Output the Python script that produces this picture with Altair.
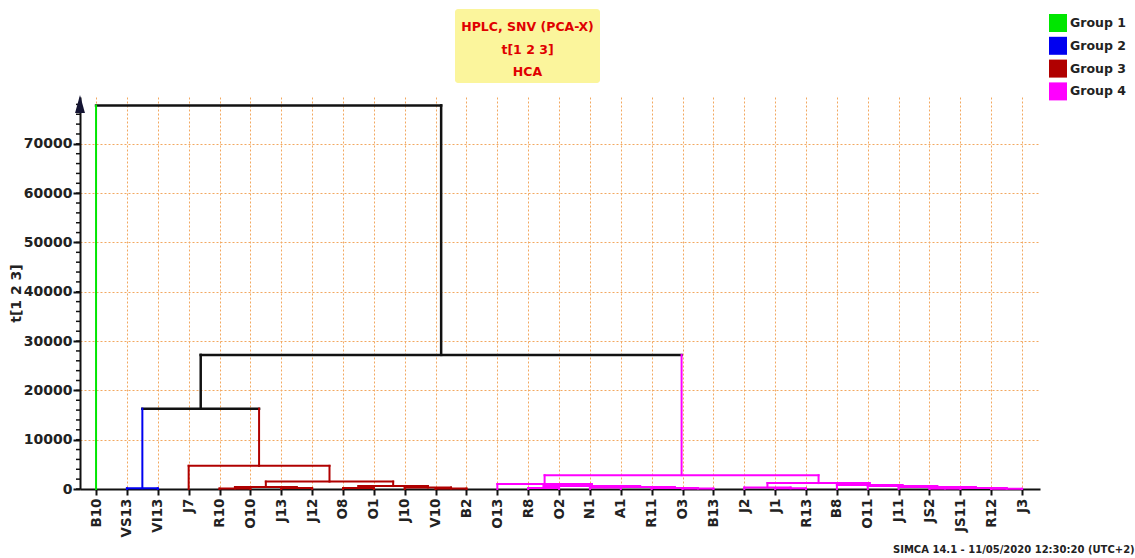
import json
import altair as alt
import pandas as pd

# ---------------- data ----------------
leaves = ["B10", "VS13", "VI13", "J7", "R10", "O10", "J13", "J12", "O8", "O1",
          "J10", "V10", "B2", "O13", "R8", "O2", "N1", "A1", "R11", "O3",
          "B13", "J2", "J1", "R13", "B8", "O11", "J11", "JS2", "JS11", "R12", "J3"]
leaf_groups = (["Group 1"] + ["Group 2"] * 2 + ["Group 3"] * 10 + ["Group 4"] * 18)

merge_names = ["g2", "a1", "a2", "a3", "a4", "a5", "a6", "a7", "a8", "g3",
               "b1", "b2", "b3", "b4", "b5", "b6", "b7",
               "c1", "c2", "u5", "u4", "u3", "u2", "u1", "u0", "c3", "g4",
               "left", "rest", "root"]
merge_left = ["VS13", "R10", "J13", "a1", "O8", "V10", "J10", "a4", "a3", "J7",
              "R8", "N1", "O3", "R11", "b2", "b1", "O13",
              "J1", "J2", "R12", "JS2", "u4", "J11", "O11", "B8", "c2", "b7",
              "g2", "left", "B10"]
merge_right = ["VI13", "O10", "J12", "a2", "O1", "B2", "a5", "a6", "a7", "a8",
               "O2", "A1", "B13", "b3", "b4", "b5", "b6",
               "R13", "c1", "J3", "JS11", "u5", "u3", "u2", "u1", "u0", "c3",
               "g3", "g4", "rest"]
merge_height = [150, 100, 200, 400, 200, 100, 300, 600, 1500, 4700,
                200, 300, 100, 200, 400, 600, 1000,
                150, 300, 50, 100, 200, 400, 600, 800, 1200, 2800,
                16300, 27200, 77800]

groups = ["Group 1", "Group 2", "Group 3", "Group 4"]
group_colors = ["#00e600", "#0000f0", "#b00000", "#ff00ff"]

y_ticks = [0, 10000, 20000, 30000, 40000, 50000, 60000, 70000]
y_minor = list(range(0, 78001, 2000))

title_lines = ["HPLC, SNV (PCA-X)", "t[1 2 3]", "HCA"]
footer = "SIMCA 14.1 - 11/05/2020 12:30:20 (UTC+2)"

# ---------------- dendrogram layout ----------------
pos, hgt, grp = {}, {}, {}
for i, (n, g) in enumerate(zip(leaves, leaf_groups)):
    pos[n], hgt[n], grp[n] = i, 0, g
for n, l, r, h in zip(merge_names, merge_left, merge_right, merge_height):
    pos[n] = (pos[l] + pos[r]) / 2
    hgt[n] = h
    grp[n] = grp[l] if grp[l] == grp[r] else "none"

rows = []
for n, l, r, h in zip(merge_names, merge_left, merge_right, merge_height):
    rows.append(dict(x=pos[l], x2=pos[r], y=h, y2=h, group=grp[n]))
    for c in (l, r):
        rows.append(dict(x=pos[c], x2=pos[c], y=hgt[c], y2=h, group=grp[c]))
seg = pd.DataFrame(rows)
leaf_df = pd.DataFrame({"x": list(range(len(leaves))), "y": [0] * len(leaves),
                        "group": leaf_groups})

# ---------------- chart ----------------
FONT = "DejaVu Sans"
TXT = "#222222"
GRID = "#f2a860"

xscale = alt.Scale(domain=[-0.52, 30.58], nice=False, zero=False)
yscale = alt.Scale(domain=[0, 79500], nice=False)

xaxis = alt.Axis(values=list(range(len(leaves))),
                 labelExpr=f"{json.dumps(leaves)}[round(datum.value)]",
                 labelAngle=270, labelAlign="right", labelBaseline="middle",
                 labelFont=FONT, labelFontWeight="bold", labelFontSize=13.5,
                 labelColor=TXT, labelPadding=3, labelOverlap=False, labelFlush=False,
                 labelBound=False,
                 tickSize=6, tickWidth=2, tickColor="#111111",
                 domainColor="#111111", domainWidth=2,
                 grid=True, gridColor=GRID, gridDash=[2, 2], gridWidth=1,
                 title=None)
yaxis = alt.Axis(values=y_ticks, format="d",
                 labelFont=FONT, labelFontWeight="bold", labelFontSize=14,
                 labelColor=TXT, labelPadding=1, labelOverlap=False,
                 tickSize=7, tickWidth=2, tickColor="#111111",
                 domainColor="#111111", domainWidth=2,
                 grid=True, gridColor=GRID, gridDash=[2, 2], gridWidth=1,
                 title="t[1 2 3]", titleFont=FONT, titleFontWeight="bold",
                 titleFontSize=14, titleColor=TXT, titleAngle=270, titlePadding=0)

base = alt.Chart(seg)

# legend carrier: tiny squares at the leaves (hidden under the baseline)
legend_layer = alt.Chart(leaf_df).mark_square(size=1, opacity=1).encode(
    x=alt.X("x:Q", scale=xscale, axis=xaxis),
    y=alt.Y("y:Q", scale=yscale, axis=yaxis),
    fill=alt.Fill("group:N",
                  scale=alt.Scale(domain=groups, range=group_colors),
                  legend=alt.Legend(title=None, orient="none", legendX=969, legendY=-83,
                                    symbolType="square", symbolSize=324,
                                    symbolStrokeWidth=0, symbolOpacity=1,
                                    labelFont=FONT, labelFontWeight="bold",
                                    labelFontSize=12.5, labelColor=TXT,
                                    labelOffset=3, rowPadding=4.8, padding=0)),
)

colored = base.transform_filter("datum.group != 'none'").mark_rule(
    strokeWidth=2, strokeCap="square").encode(
    x=alt.X("x:Q", scale=xscale, axis=xaxis),
    x2="x2:Q",
    y=alt.Y("y:Q", scale=yscale, axis=yaxis),
    y2="y2:Q",
    color=alt.Color("group:N",
                    scale=alt.Scale(domain=groups, range=group_colors),
                    legend=None),
)

black = base.transform_filter("datum.group == 'none'").mark_rule(
    strokeWidth=2.5, strokeCap="square", color="#111111").encode(
    x=alt.X("x:Q", scale=xscale, axis=xaxis), x2="x2:Q",
    y=alt.Y("y:Q", scale=yscale, axis=yaxis), y2="y2:Q")

minor = alt.Chart(pd.DataFrame({"y": y_minor})).mark_rule(
    color="#111111", strokeWidth=1.5).encode(
    y=alt.Y("y:Q", scale=yscale, axis=yaxis), x=alt.value(-4), x2=alt.value(0))

one = pd.DataFrame({"k": [0]})
arrow = alt.Chart(one).mark_point(
    shape="M-0.55,1L0,-1L0.55,1Z", filled=True, size=324, color="#141432",
    opacity=1).encode(x=alt.value(0), y=alt.value(7))

title_box = alt.Chart(one).mark_rect(fill="#fbf59c", cornerRadius=3).encode(
    x=alt.value(375), x2=alt.value(520), y=alt.value(-88), y2=alt.value(-14))
title_text = alt.Chart(one).mark_text(
    align="center", baseline="middle", font=FONT, fontWeight="bold",
    fontSize=12.5, color="#e00000", lineHeight=22.5).encode(
    x=alt.value(447.5), y=alt.value(-70), text=alt.value(title_lines))

foot = alt.Chart(one).mark_text(
    align="left", baseline="alphabetic", font=FONT, fontWeight="bold",
    fontSize=10, color=TXT).encode(
    x=alt.value(813), y=alt.value(456), text=alt.value(footer))

chart = alt.layer(title_box, title_text, legend_layer, black, colored, minor, arrow,
                  foot).properties(
    width=960, height=392, autosize="none",
    padding={"left": 80, "top": 97, "right": 95, "bottom": 69},
    background="white",
).configure_view(stroke=None)

chart.save("out.html", embed_options={"renderer": "svg", "actions": False})
